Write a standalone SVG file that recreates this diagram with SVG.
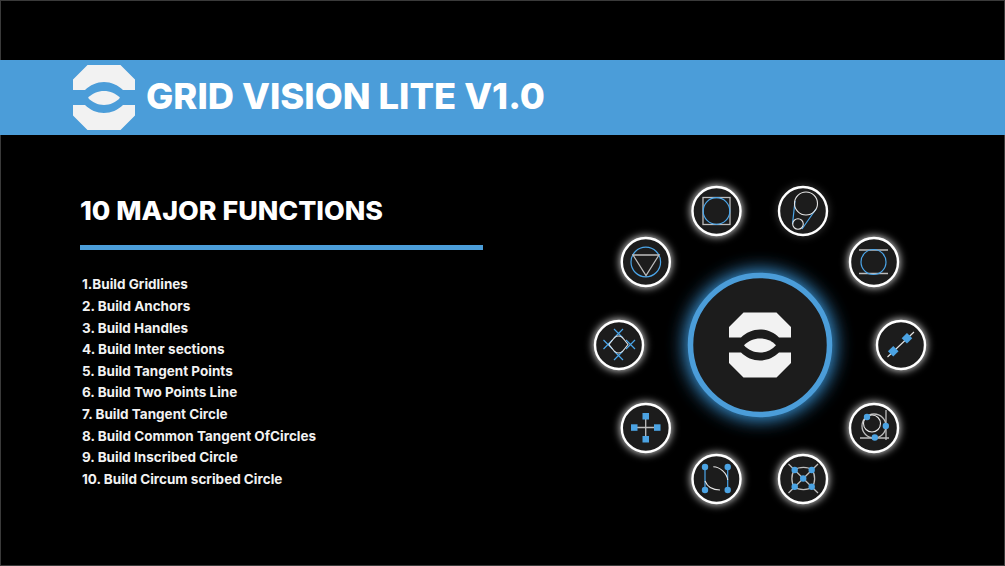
<svg xmlns="http://www.w3.org/2000/svg" xmlns:xlink="http://www.w3.org/1999/xlink" width="1005" height="566" viewBox="0 0 1005 566">
<style>
.t{font-family:Inter,"Liberation Sans",sans-serif;fill:#fff;font-weight:800}
.li{font-size:13.5px;font-weight:700;fill:#f2f2f2}
.disc{fill:#1c1c1c;stroke:#fff;stroke-width:2.4}
.g{fill:none;stroke:#bdbdbd;stroke-width:1.3}
.w{fill:none;stroke:#e6e6e6;stroke-width:1.1}
.b{fill:none;stroke:#4ba6ea;stroke-width:1.2}
.d{fill:#4ba3e3}
</style>
<defs>
<filter id="gw" x="-50%" y="-50%" width="200%" height="200%"><feGaussianBlur stdDeviation="4"/></filter>
<filter id="gb" x="-40%" y="-40%" width="180%" height="180%"><feGaussianBlur stdDeviation="9"/></filter>
<g id="logo" fill="#f2f2f2">
<path d="M73 90V79.500L87.500 65H120.500L135 79.500V90H123C118 85 111 82 104 82C97 82 90 85 85 90Z"/>
<path d="M73 105V115.500L87.500 130H120.500L135 115.500V105H123C118 110 111 113 104 113C97 113 90 110 85 105Z"/>
<path d="M88 97.800C92 93.500 98 91 104 91C110 91 116 93.500 120 97.800C116 102.500 110 105 104 105C98 105 92 102.500 88 97.800Z"/>
</g>
<circle id="halo" r="25.500" fill="#fff" fill-opacity="0.9" filter="url(#gw)"/>
</defs>
<rect x="0.500" y="0.500" width="1004" height="565" fill="#000" stroke="#3a3a3a"/>
<rect id="banner" x="0" y="60" width="1005" height="75" fill="#4b9dd9"/>
<g id="header-logo"><use xlink:href="#logo"/></g>
<text id="title" class="t" x="146" y="109" font-size="36" textLength="399" lengthAdjust="spacingAndGlyphs">GRID VISION LITE V1.0</text>
<text id="subtitle" class="t" x="80" y="220" font-size="26" textLength="303" lengthAdjust="spacingAndGlyphs">10 MAJOR FUNCTIONS</text>
<rect id="divider" x="80" y="245" width="403" height="5" fill="#4b9dd9"/>
<g id="list">
<text class="t li" x="82" y="289">1.Build Gridlines</text>
<text class="t li" x="82" y="311">2. Build Anchors</text>
<text class="t li" x="82" y="333">3. Build Handles</text>
<text class="t li" x="82" y="354">4. Build Inter sections</text>
<text class="t li" x="82" y="376">5. Build Tangent Points</text>
<text class="t li" x="82" y="397">6. Build Two Points Line</text>
<text class="t li" x="82" y="419">7. Build Tangent Circle</text>
<text class="t li" x="82" y="441">8. Build Common Tangent OfCircles</text>
<text class="t li" x="82" y="462">9. Build Inscribed Circle</text>
<text class="t li" x="82" y="484">10. Build Circum scribed Circle</text>
</g>
<g id="center">
<circle cx="760" cy="345" r="75" fill="#3d9be0" filter="url(#gb)"/>
<circle cx="760" cy="345" r="69.500" fill="#1c1c1c" stroke="#4b9dd9" stroke-width="5.500"/>
<use xlink:href="#logo" x="656" y="247.500"/>
</g>
<g id="n-square"><use xlink:href="#halo" x="716.500" y="211"/><circle class="disc" cx="716.500" cy="211" r="24"/>
<rect class="g" x="703" y="197.500" width="27" height="27"/><circle class="b" cx="716.500" cy="211" r="13.300"/></g>
<g id="n-common"><use xlink:href="#halo" x="803" y="211" opacity="0.25"/><circle class="disc" cx="803" cy="211" r="24"/>
<path class="b" d="M795 201L792.500 224M816 209L802 229"/><circle class="w" cx="806" cy="203.500" r="11.500" fill="none"/><circle class="w" cx="798" cy="224" r="5.300"/></g>
<g id="n-triangle"><use xlink:href="#halo" x="645.800" y="262"/><circle class="disc" cx="645.800" cy="262" r="24"/>
<circle class="b" cx="645.800" cy="262" r="14.800"/><path class="g" d="M633 255H659L646 275.500Z"/></g>
<g id="n-tangent-lines"><use xlink:href="#halo" x="874" y="262"/><circle class="disc" cx="874" cy="262" r="24"/>
<path class="g" d="M859 250H888M859 273.500H888"/><circle class="b" cx="873.500" cy="262" r="12.500"/></g>
<g id="n-two-point"><use xlink:href="#halo" x="901" y="345"/><circle class="disc" cx="901" cy="345" r="24"/>
<path class="w" d="M887.500 357L914 332"/><rect class="d" x="889.500" y="347.500" width="7.500" height="7.500" transform="rotate(45 893.250 351.250)"/><rect class="d" x="903.200" y="334.500" width="7.500" height="7.500" transform="rotate(45 907 338.250)"/></g>
<g id="n-tangent-circle"><use xlink:href="#halo" x="874" y="428"/><circle class="disc" cx="874" cy="428" r="24"/>
<path class="g" d="M860 438H889M886 410V440"/><circle class="g" cx="874" cy="426" r="12"/><circle class="w" cx="872" cy="423.500" r="8.500"/>
<circle class="d" cx="867" cy="417" r="3.200"/><circle class="d" cx="885.800" cy="426" r="3.200"/><circle class="d" cx="874.800" cy="437.500" r="3.200"/></g>
<g id="n-inter"><use xlink:href="#halo" x="803" y="479"/><circle class="disc" cx="803" cy="479" r="24"/>
<path class="g" d="M788.500 464L818 493M818 464L788.500 493"/><path class="g" d="M794.500 470C799 466.500 808 466.500 812 470C815.500 474.500 815.500 483 812 487C808 490.500 799 490.500 794.500 487C791 483 791 474.500 794.500 470Z"/>
<circle class="d" cx="794.700" cy="470" r="3.200"/><circle class="d" cx="811.700" cy="470" r="3.200"/><circle class="d" cx="794.700" cy="486.700" r="3.200"/><circle class="d" cx="811.700" cy="486.700" r="3.200"/><circle class="d" cx="803.200" cy="478.500" r="3.200"/></g>
<g id="n-handles"><use xlink:href="#halo" x="716.500" y="479"/><circle class="disc" cx="716.500" cy="479" r="24"/>
<path class="b" d="M705 467V490M727.700 467V490"/><path class="w" d="M705 481C707 486 712 490 720 490M713.300 466.700C720 467 727 473 727.700 480"/>
<circle class="d" cx="705" cy="467" r="3.200"/><circle class="d" cx="727.700" cy="467" r="3.200"/><circle class="d" cx="705" cy="490" r="3.200"/><circle class="d" cx="727.700" cy="490" r="3.200"/></g>
<g id="n-anchors"><use xlink:href="#halo" x="645.800" y="428"/><circle class="disc" cx="645.800" cy="428" r="24"/>
<path class="g" d="M634 427.500H657M645.700 416V439"/>
<rect class="d" x="642.500" y="413" width="6.500" height="6.500"/><rect class="d" x="642.500" y="436" width="6.500" height="6.500"/><rect class="d" x="631" y="424.300" width="6.500" height="6.500"/><rect class="d" x="654" y="424.300" width="6.500" height="6.500"/></g>
<g id="n-intersections"><use xlink:href="#halo" x="619" y="345"/><circle class="disc" cx="619" cy="345" r="24"/>
<path class="b" d="M614 329L623 338M623 329L614 338M603.500 340L612.500 349M612.500 340L603.500 349M626 340L635 349M635 340L626 349M614 351L623 360M623 351L614 360"/>
<path class="w" d="M618.500 336C622 336 623 338 628 344.500C623 351 622 353 618.500 353C615 353 614 351 609 344.500C614 338 615 336 618.500 336Z"/></g>
</svg>
